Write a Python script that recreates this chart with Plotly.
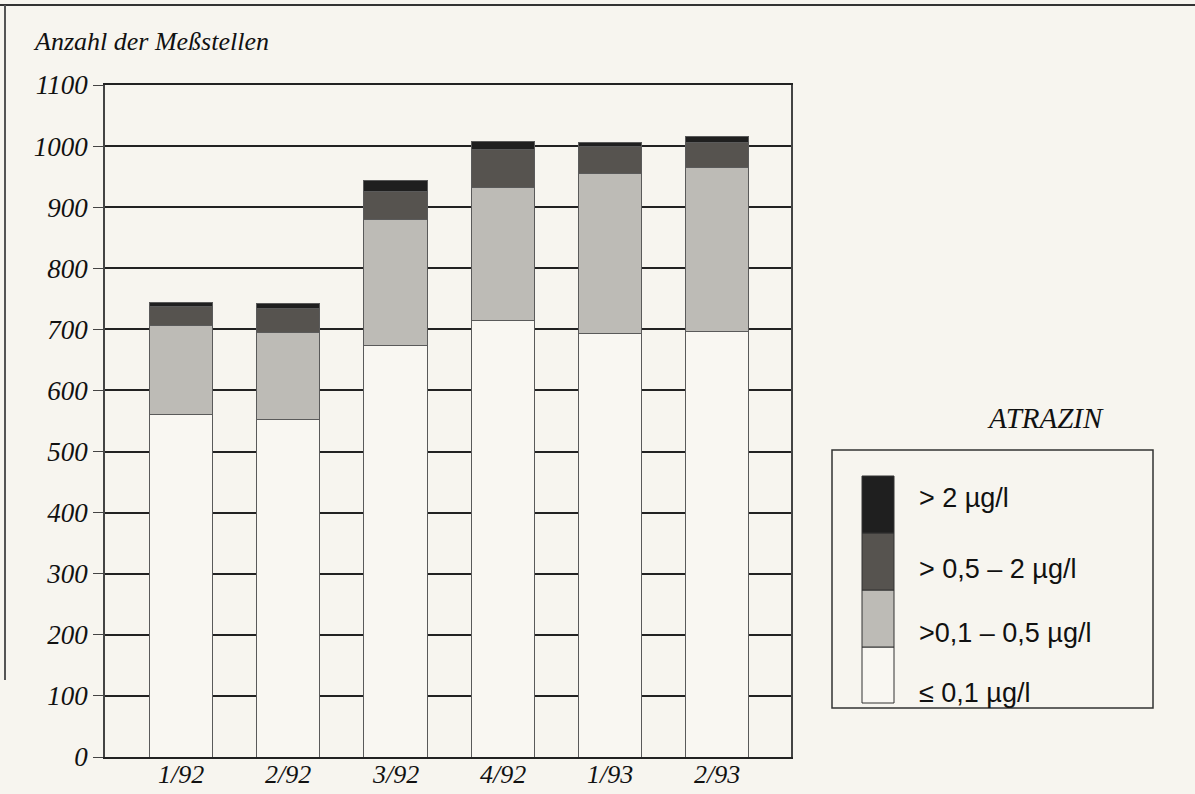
import plotly.graph_objects as go

# Atrazin-Befunde je Messkampagne (Anzahl der Messstellen je Konzentrationsklasse)
quartale = ['1/92', '2/92', '3/92', '4/92', '1/93', '2/93']
bis_0_1 = [560, 553, 674, 714, 694, 696]
von_0_1_bis_0_5 = [146, 142, 206, 219, 261, 269]
von_0_5_bis_2 = [31, 39, 46, 62, 44, 41]
ueber_2 = [7, 8, 17, 12, 7, 9]

klassen = ['\u2264 0,1 \u00b5g/l', '>0,1 \u2013 0,5 \u00b5g/l',
           '> 0,5 \u2013 2 \u00b5g/l', '> 2 \u00b5g/l']
farben = ['#f9f7f2', '#bdbbb6', '#56534f', '#1f1f1f']
y_ticks = list(range(0, 1101, 100))

W, H = 1195, 794
L, R, T, B = 105, 791, 85, 757
BG = '#f7f5ef'
SERIF = 'Liberation Serif, Times New Roman, serif'
SANS = 'Liberation Sans, Arial, sans-serif'


def px(x):
    return (x - L) / (R - L)


def py(y):
    return (B - y) / (B - T)


fig = go.Figure()
for name, vals, col in zip(klassen, [bis_0_1, von_0_1_bis_0_5, von_0_5_bis_2, ueber_2], farben):
    fig.add_trace(go.Bar(
        x=list(range(len(quartale))),
        y=vals,
        name=name,
        width=0.59,
        marker=dict(color=col, line=dict(color='#5a5a5a', width=1)),
        showlegend=False
    ))

shapes = []
annotations = []

# Rahmen der Seite (Scan)
shapes.append(dict(type='line', xref='paper', yref='paper',
                   x0=px(0), x1=px(W), y0=py(5), y1=py(5),
                   line=dict(color='#333', width=2)))
shapes.append(dict(type='line', xref='paper', yref='paper',
                   x0=px(5), x1=px(5), y0=py(5), y1=py(680),
                   line=dict(color='#555', width=2)))

# x-Beschriftung als Annotationen (etwas naeher an der Achse als Ticklabels)
for i, q in enumerate(quartale):
    annotations.append(dict(xref='x', yref='paper', x=i, y=py(774),
                            text='<i>%s</i>' % q, showarrow=False,
                            xanchor='center', yanchor='middle',
                            font=dict(family=SERIF, size=26, color='#111')))

# Legende: Kasten und durchgehender Farbbalken
shapes.append(dict(type='rect', xref='paper', yref='paper',
                   x0=px(832), x1=px(1153), y0=py(708), y1=py(450),
                   line=dict(color='#333', width=1.5), fillcolor=BG))
sw_top, sw_step = 476, 57
label_y = [693, 633, 569, 498]
for i, (name, col) in enumerate(zip(klassen, farben)):
    y1 = sw_top + sw_step * (3 - i)
    y0 = y1 + sw_step
    if i == 0:
        y0 = 703
    shapes.append(dict(type='rect', xref='paper', yref='paper',
                       x0=px(862), x1=px(894), y0=py(y0), y1=py(y1),
                       line=dict(color='#333', width=1), fillcolor=col))
    annotations.append(dict(xref='paper', yref='paper', x=px(917), y=py(label_y[i]),
                            text=name, showarrow=False, xanchor='left', yanchor='middle',
                            font=dict(family=SANS, size=27, color='#111')))

annotations.append(dict(xref='paper', yref='paper', x=px(1045), y=py(418),
                        text='<i>ATRAZIN</i>', showarrow=False,
                        xanchor='center', yanchor='middle',
                        font=dict(family=SERIF, size=29, color='#111')))
annotations.append(dict(xref='paper', yref='paper', x=px(31), y=py(42),
                        text='<i>Anzahl der Me\u00dfstellen</i>', showarrow=False,
                        xanchor='left', yanchor='middle',
                        font=dict(family=SERIF, size=26, color='#111')))

fig.update_layout(
    barmode='stack',
    width=W, height=H,
    margin=dict(l=L, r=W - R, t=T, b=H - B, pad=0),
    paper_bgcolor=BG,
    plot_bgcolor=BG,
    shapes=shapes,
    annotations=annotations,
    font=dict(family=SERIF, size=26, color='#111'),
)
fig.update_xaxes(
    range=[-0.71, 5.69],
    showticklabels=False,
    showgrid=False, zeroline=False, automargin=False,
    showline=True, linecolor='#222', linewidth=1.5, mirror=True,
    ticks='',
)
fig.update_yaxes(
    range=[0, 1100],
    tickvals=y_ticks,
    ticktext=['<i>%d</i>' % v for v in y_ticks],
    showgrid=True, gridcolor='#222', gridwidth=1.5,
    zeroline=False, automargin=False,
    showline=True, linecolor='#444', linewidth=1.5, mirror=True,
    ticks='outside', ticklen=10, tickcolor='#444',
    tickfont=dict(family=SERIF, size=27, color='#111'),
)

fig.write_html("out.html", config={'displayModeBar': False},
               post_script="document.body.style.margin='0';")
